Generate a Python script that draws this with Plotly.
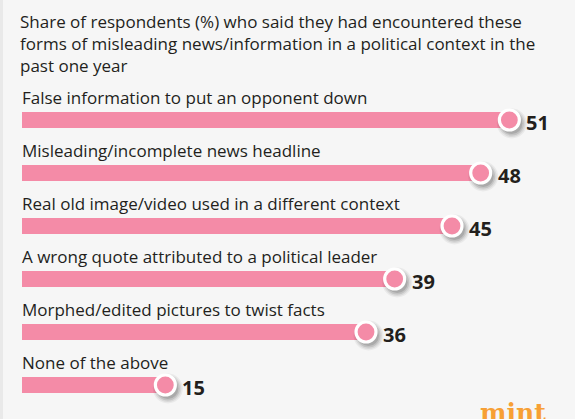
import plotly.graph_objects as go

# Survey data: forms of misleading political news encountered in the past year (%)
categories = [
    "False information to put an opponent down",
    "Misleading/incomplete news headline",
    "Real old image/video used in a different context",
    "A wrong quote attributed to a political leader",
    "Morphed/edited pictures to twist facts",
    "None of the above",
]
shares = [51, 48, 45, 39, 36, 15]
rows = list(range(len(categories)))

subtitle = ("Share of respondents (%) who said they had encountered these<br>"
            "forms of misleading news/information in a political context in the<br>"
            "past one year")

W, H = 575, 419
BG = "#f6f6f6"
PINK = "#f48ba7"
INK = "#231f1c"
FONT = "Open Sans"

# pixel geometry of the plotting area
px_per_unit = 9.556
left = 22
plot_w = W - left
row_top_px = 120.0
row_step_px = 53.0
x_max = plot_w / px_per_unit
y_top = -row_top_px / row_step_px
y_bot = (H - row_top_px) / row_step_px


def paper_x(px):
    """Convert a pixel column of the figure to paper coordinates."""
    return (px - left) / plot_w


fig = go.Figure()

# pill-shaped bars
fig.add_trace(go.Bar(
    x=shares, y=rows, orientation="h",
    width=16 / row_step_px,
    marker=dict(color=PINK, line=dict(width=0)),
    hoverinfo="skip", showlegend=False,
))

# soft drop shadow under the end knobs
for size, op in [(30, 0.05), (27, 0.07), (24, 0.10), (21, 0.12)]:
    fig.add_trace(go.Scatter(
        x=[v + 2.5 / px_per_unit for v in shares],
        y=[r + 3.5 / row_step_px for r in rows],
        mode="markers",
        marker=dict(size=size, color=f"rgba(0,0,0,{op})", line=dict(width=0)),
        hoverinfo="skip", showlegend=False,
    ))

# end knobs: pink dot with white ring
fig.add_trace(go.Scatter(
    x=shares, y=rows, mode="markers",
    marker=dict(size=20, color=PINK, line=dict(color="white", width=3.2)),
    hoverinfo="skip", showlegend=False,
))

annotations = []
for cat, val, r in zip(categories, shares, rows):
    annotations.append(dict(
        x=0, y=r, xref="x", yref="y", text=cat, showarrow=False,
        xanchor="left", yanchor="middle", xshift=-2, yshift=23,
        font=dict(family=FONT, size=17, color=INK),
    ))
    annotations.append(dict(
        x=val, y=r, xref="x", yref="y", text=f"<b>{val}</b>", showarrow=False,
        xanchor="left", yanchor="middle", xshift=15, yshift=-2,
        font=dict(family=FONT, size=20, color=INK),
    ))

annotations.append(dict(
    x=paper_x(18), y=1 - 8 / H, xref="paper", yref="paper", text=subtitle,
    showarrow=False, xanchor="left", yanchor="top", align="left",
    font=dict(family=FONT, size=17, color=INK),
))

annotations.append(dict(
    x=paper_x(478), y=1 - 396 / H, xref="paper", yref="paper", text="<b>mint</b>",
    showarrow=False, xanchor="left", yanchor="top",
    font=dict(family="DejaVu Serif", size=25, color="#f7a035"),
))

fig.update_layout(
    width=W, height=H,
    margin=dict(l=left, r=0, t=0, b=0),
    paper_bgcolor=BG, plot_bgcolor=BG,
    barcornerradius=8,
    xaxis=dict(range=[0, x_max], visible=False, fixedrange=True),
    yaxis=dict(range=[y_bot, y_top], visible=False, fixedrange=True),
    annotations=annotations,
    shapes=[dict(type="rect", xref="paper", yref="paper", x0=paper_x(0), x1=paper_x(3),
                 y0=0, y1=1, fillcolor="#e9e9e9", line=dict(width=0), layer="below")],
)

fig.write_html("out.html")
